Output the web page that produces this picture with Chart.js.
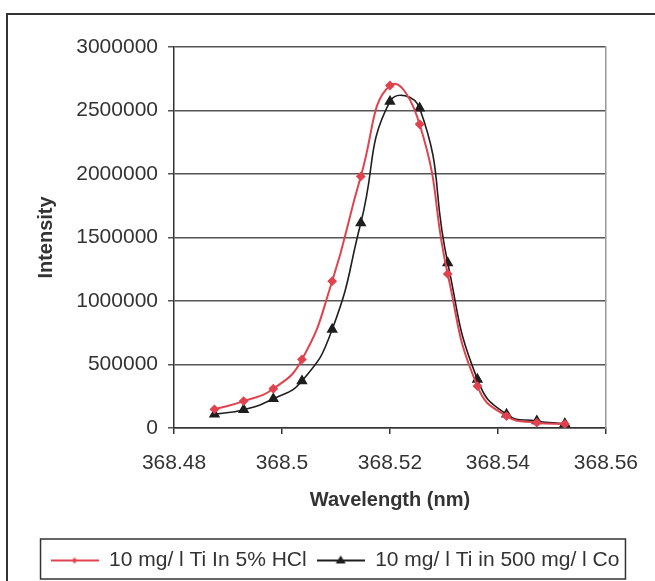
<!DOCTYPE html>
<html>
<head>
<meta charset="utf-8">
<script src="https://cdn.jsdelivr.net/npm/chart.js@4"></script>
<style>
  html, body { margin: 0; padding: 0; background: #fff; }
  #wrap { position: relative; width: 655px; height: 581px; overflow: hidden; }
  #frame { position: absolute; left: 6px; top: 13px; width: 700px; height: 700px; border: 2px solid #333; box-sizing: border-box; }
  #c { position: absolute; left: 0; top: 0; }
</style>
</head>
<body>
<div id="wrap">
  <div id="frame"></div>
  <canvas id="c" width="655" height="581"></canvas>
</div>
<script>
// Longitudes de onda (nm) y señales
const wavelengths = [368.4875, 368.4929, 368.4984, 368.5037, 368.5093, 368.5146, 368.5200,
                     368.5255, 368.5307, 368.5362, 368.5416, 368.5472, 368.5524];
const hclIntensity = [147000, 212000, 309000, 540000, 1156000, 1981000, 2697000,
                      2392000, 1213000, 330000, 94000, 42000, 31000];
const coIntensity = [108000, 144000, 230000, 370000, 776000, 1614000, 2571000,
                     2518000, 1300000, 383000, 108000, 55000, 34000];
const seriesNames = ['10 mg/ l Ti In 5% HCl', '10 mg/ l Ti in 500 mg/ l Co'];
const xTicks = [368.48, 368.5, 368.52, 368.54, 368.56];
const yTicks = [0, 500000, 1000000, 1500000, 2000000, 2500000, 3000000];

const RED = '#e0434e';
const BLACK = '#1e1e1e';
const FONT = 'Liberation Sans, Arial, sans-serif';

function toPoints(ys) {
    return ys.map((y, i) => ({ x: wavelengths[i], y }));
}

// muestra de leyenda: línea con marcador
function legendSample(color, style) {
    const cv = document.createElement('canvas');
    cv.width = 48; cv.height = 14;
    const ctx = cv.getContext('2d');
    ctx.strokeStyle = color;
    ctx.fillStyle = color;
    ctx.lineWidth = 2;
    ctx.beginPath(); ctx.moveTo(0, 7); ctx.lineTo(48, 7); ctx.stroke();
    ctx.beginPath();
    if (style === 'triangle') {
        ctx.moveTo(24, 2); ctx.lineTo(29, 10); ctx.lineTo(19, 10);
    } else {
        ctx.moveTo(24, 4); ctx.lineTo(27, 7); ctx.lineTo(24, 10); ctx.lineTo(21, 7);
    }
    ctx.closePath(); ctx.fill();
    return cv;
}

// caja alrededor de la leyenda
const legendBox = {
    id: 'legendBox',
    afterDraw(chart) {
        const lg = chart.legend;
        if (!lg || !lg.legendHitBoxes.length) return;
        const boxes = lg.legendHitBoxes;
        const left = Math.min(...boxes.map(b => b.left)) - 10;
        const right = Math.max(...boxes.map(b => b.left + b.width)) + 6;
        const top = Math.min(...boxes.map(b => b.top)) - 11;
        const bottom = Math.max(...boxes.map(b => b.top + b.height)) + 8;
        const ctx = chart.ctx;
        ctx.save();
        ctx.strokeStyle = '#333';
        ctx.lineWidth = 1.5;
        ctx.strokeRect(left, top, right - left, bottom - top);
        ctx.restore();
    }
};

const fmt = v => String(Number(v.toFixed(4)));

new Chart(document.getElementById('c'), {
    type: 'line',
    data: {
        datasets: [
            {
                label: seriesNames[0],
                data: toPoints(hclIntensity),
                borderColor: RED,
                backgroundColor: RED,
                borderWidth: 2,
                pointStyle: 'rectRot',
                pointRadius: 3.5,
                tension: 0.5
            },
            {
                label: seriesNames[1],
                data: toPoints(coIntensity),
                borderColor: BLACK,
                backgroundColor: BLACK,
                borderWidth: 1.6,
                pointStyle: 'triangle',
                pointRadius: 5,
                tension: 0.5
            }
        ]
    },
    options: {
        responsive: false,
        animation: false,
        layout: { padding: { left: 15, top: 47, right: 0, bottom: 0 } },
        plugins: {
            tooltip: { enabled: false },
            legend: {
                position: 'bottom',
                labels: {
                    color: '#333',
                    font: { family: FONT, size: 21 },
                    usePointStyle: true,
                    boxWidth: 48,
                    pointStyleWidth: 48,
                    padding: 10,
                    generateLabels: () => [
                        { text: seriesNames[0], pointStyle: legendSample(RED, 'diamond'), fontColor: '#333', datasetIndex: 0 },
                        { text: seriesNames[1], pointStyle: legendSample(BLACK, 'triangle'), fontColor: '#333', datasetIndex: 1 }
                    ]
                }
            }
        },
        scales: {
            x: {
                type: 'linear',
                min: xTicks[0],
                max: xTicks[xTicks.length - 1],
                afterBuildTicks: s => { s.ticks = xTicks.map(v => ({ value: v })); },
                afterFit: s => { s.height = 112; },
                ticks: {
                    color: '#333',
                    font: { family: FONT, size: 21 },
                    padding: 17,
                    callback: fmt
                },
                grid: { drawOnChartArea: false, color: '#333', tickLength: 6, lineWidth: 1.5 },
                border: { color: '#333', width: 1.5 },
                title: {
                    display: true,
                    text: 'Wavelength (nm)',
                    color: '#333',
                    font: { family: FONT, size: 20, weight: 'bold' },
                    padding: { top: 8, bottom: 28 }
                }
            },
            y: {
                min: yTicks[0],
                max: yTicks[yTicks.length - 1],
                afterBuildTicks: s => { s.ticks = yTicks.map(v => ({ value: v })); },
                afterFit: s => { s.width = 159; },
                ticks: {
                    color: '#333',
                    font: { family: FONT, size: 21 },
                    padding: 10,
                    callback: v => String(v)
                },
                grid: { color: '#555', tickLength: 6, lineWidth: 1.5 },
                border: { color: '#333', width: 1.5 },
                title: {
                    display: true,
                    text: 'Intensity',
                    color: '#333',
                    font: { family: FONT, size: 20, weight: 'bold' },
                    padding: { top: 19 }
                }
            },
            yRight: {
                position: 'right',
                min: yTicks[0],
                max: yTicks[yTicks.length - 1],
                ticks: { display: false },
                grid: { display: false, drawTicks: false },
                border: { color: '#999', width: 1.5 },
                afterFit: s => { s.width = 47; }
            }
        }
    },
    plugins: [legendBox]
});
</script>
</body>
</html>
